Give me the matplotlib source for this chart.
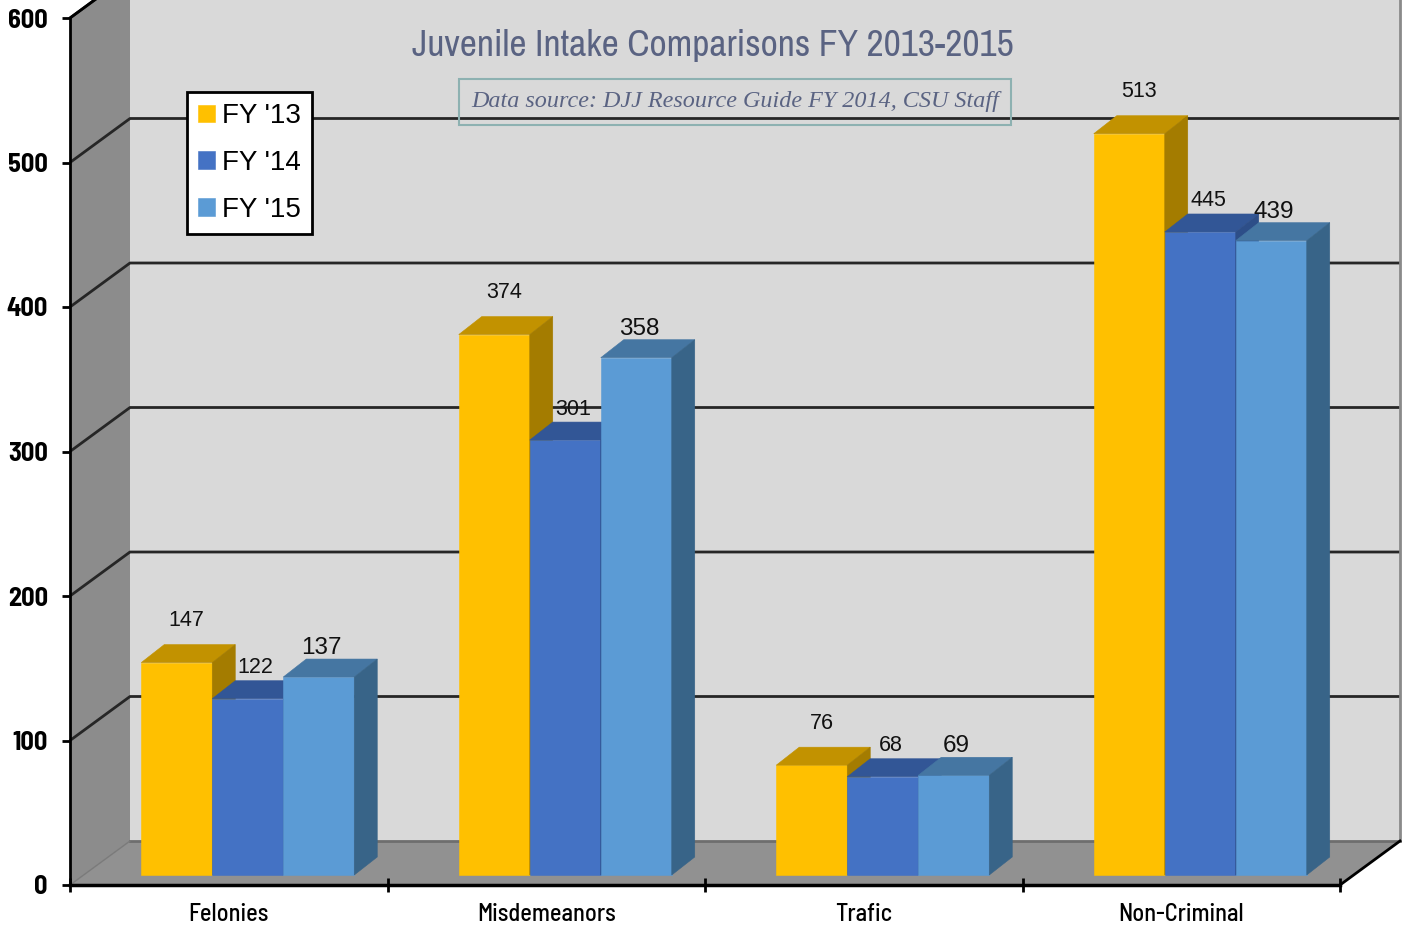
import matplotlib
matplotlib.use('Agg')
import matplotlib.pyplot as plt
from matplotlib.patches import Polygon, Rectangle
import numpy as np

# ---------------- data ----------------
categories = ['Felonies', 'Misdemeanors', 'Trafic', 'Non-Criminal']
series_names = ["FY '13", "FY '14", "FY '15"]
fy13 = [147, 374, 76, 513]
fy14 = [122, 301, 68, 445]
fy15 = [137, 358, 69, 439]
y_ticks = [0, 100, 200, 300, 400, 500, 600]
title = 'Juvenile Intake Comparisons FY 2013-2015'
subtitle = 'Data source: DJJ Resource Guide FY 2014, CSU Staff'

# ---------------- style ----------------
NARROW = ['Archivo Narrow', 'Liberation Sans', 'DejaVu Sans']
NARROW_BOLD = ['Barlow Semi Condensed', 'Liberation Sans', 'DejaVu Sans']
SANS = ['Liberation Sans', 'DejaVu Sans']
front_cols = ['#FFC000', '#4472C4', '#5B9BD5']
top_cols = ['#C29200', '#325696', '#4576A2']
side_cols = ['#A47C00', '#2D4E88', '#386488']
label_off = [(10, 42), (8, 31), (3, 29)]
label_size = [15.5, 15.5, 17.5]

FW, FH = 1409, 926
fig = plt.figure(figsize=(FW / 100, FH / 100), dpi=100)
fig.patch.set_facecolor('white')
ax = fig.add_axes([70 / FW, 41 / FH, 1270 / FW, 867 / FH])
ax.set_xlim(-0.5, 3.5)
ax.set_ylim(0, 600)
ax.patch.set_visible(False)

UX = 4 / 1270.0
UY = 600 / 867.0
Dx, Dy = 60 * UX, 44 * UY          # full depth of the box
OX, OY = 19 * UX, 10 * UY          # bar front plane offset
BDX, BDY = 23 * UX, 18 * UY        # bar depth
W = 71 * UX                        # bar width

x0, x1 = -0.5, 3.5
ytop = y_ticks[-1]

# walls
ax.add_patch(Polygon([(x0, 0), (x0, ytop), (x0 + Dx, ytop + Dy), (x0 + Dx, Dy)],
                     closed=True, fc='#8c8c8c', ec='none', clip_on=False, zorder=0.5))
ax.add_patch(Rectangle((x0 + Dx, Dy), x1 - x0, ytop, fc='#d9d9d9', ec='none',
                       clip_on=False, zorder=0.5))
ax.add_patch(Polygon([(x0, 0), (x1, 0), (x1 + Dx, Dy), (x0 + Dx, Dy)],
                     closed=True, fc='#919191', ec='none', clip_on=False, zorder=0.6))

for v in y_ticks[1:]:
    ax.plot([x0, x0 + Dx, x1 + Dx], [v, v + Dy, v + Dy], color='#262626', lw=2,
            clip_on=False, zorder=1, solid_capstyle='butt')
ax.plot([x0 + Dx, x1 + Dx], [Dy, Dy], color='#6e6e6e', lw=2, clip_on=False, zorder=1)
ax.plot([x0, x0 + Dx], [0, Dy], color='#7a7a7a', lw=1, clip_on=False, zorder=1)
ax.plot([x1 + Dx, x1 + Dx], [Dy, ytop + Dy], color='#8a8a8a', lw=2, clip_on=False, zorder=1)
ax.plot([x1, x1 + Dx], [0, Dy], color='black', lw=2, clip_on=False, zorder=1.2)
ax.plot([x0, x0 + Dx], [ytop, ytop + Dy], color='black', lw=2, clip_on=False, zorder=1.2)

# bars
xs = np.arange(len(categories))
for j, vals in enumerate([fy13, fy14, fy15]):
    lefts = xs + OX - 1.5 * W + j * W
    z = 3 + j
    ax.bar(lefts, vals, width=W, bottom=OY, align='edge', color=front_cols[j],
           edgecolor=front_cols[j], linewidth=0.4, label=series_names[j], zorder=z)
    for L, v in zip(lefts, vals):
        T = OY + v
        ax.add_patch(Polygon([(L, T), (L + W, T), (L + W + BDX, T + BDY), (L + BDX, T + BDY)],
                             closed=True, fc=top_cols[j], ec=top_cols[j], lw=0.4, zorder=z))
        ax.add_patch(Polygon([(L + W, OY), (L + W, T), (L + W + BDX, T + BDY), (L + W + BDX, OY + BDY)],
                             closed=True, fc=side_cols[j], ec=side_cols[j], lw=0.4, zorder=z))
        ax.annotate(str(v), xy=(L + W / 2, T), xytext=label_off[j], textcoords='offset pixels',
                    ha='center', va='center', fontsize=label_size[j], family=SANS,
                    color='#111111', zorder=10, annotation_clip=False)

# axes / ticks
for s in ['top', 'right']:
    ax.spines[s].set_visible(False)
ax.spines['left'].set_linewidth(2)
ax.spines['bottom'].set_linewidth(2.5)
ax.spines['left'].set_color('black')
ax.spines['bottom'].set_color('black')

ax.set_yticks(y_ticks)
ax.set_yticklabels([str(t) for t in y_ticks])
ax.tick_params(axis='y', length=6, width=2, pad=10, direction='out')
for lab in ax.get_yticklabels():
    lab.set_family(NARROW_BOLD)
    lab.set_fontweight('bold')
    lab.set_fontsize(19)

ax.set_xticks(np.arange(len(categories) + 1) - 0.5)
ax.set_xticklabels([''] * (len(categories) + 1))
ax.tick_params(axis='x', which='major', length=10, width=2, direction='inout')
ax.set_xticks(xs, minor=True)
ax.set_xticklabels(categories, minor=True)
ax.tick_params(axis='x', which='minor', length=0, pad=13)
for lab in ax.get_xticklabels(minor=True):
    lab.set_family(NARROW_BOLD)
    lab.set_fontweight('medium')
    lab.set_fontsize(17.5)

# title & subtitle
fig.text(713 / FW, 1 - 45 / FH, title, ha='center', va='center', fontsize=27,
         color='#5a6382', family=NARROW)
fig.text(735 / FW, 1 - 102 / FH, subtitle, ha='center', va='center', fontsize=17.4,
         style='italic', family=['Liberation Serif', 'DejaVu Serif'], color='#5a6382',
         bbox=dict(boxstyle='square,pad=0.5', fc='none', ec='#8db1b1', lw=1.5))

# legend
leg = ax.legend(loc='upper left', bbox_to_anchor=(187 / FW, 1 - 92 / FH),
                bbox_transform=fig.transFigure, frameon=True, fancybox=False,
                edgecolor='black', framealpha=1, prop={'family': SANS, 'size': 20},
                handlelength=0.6, handleheight=0.6, handletextpad=0.25,
                labelspacing=0.75, borderpad=0.4, borderaxespad=0)
leg.get_frame().set_linewidth(2)
leg.set_zorder(20)

fig.savefig('out.png', dpi=100)
